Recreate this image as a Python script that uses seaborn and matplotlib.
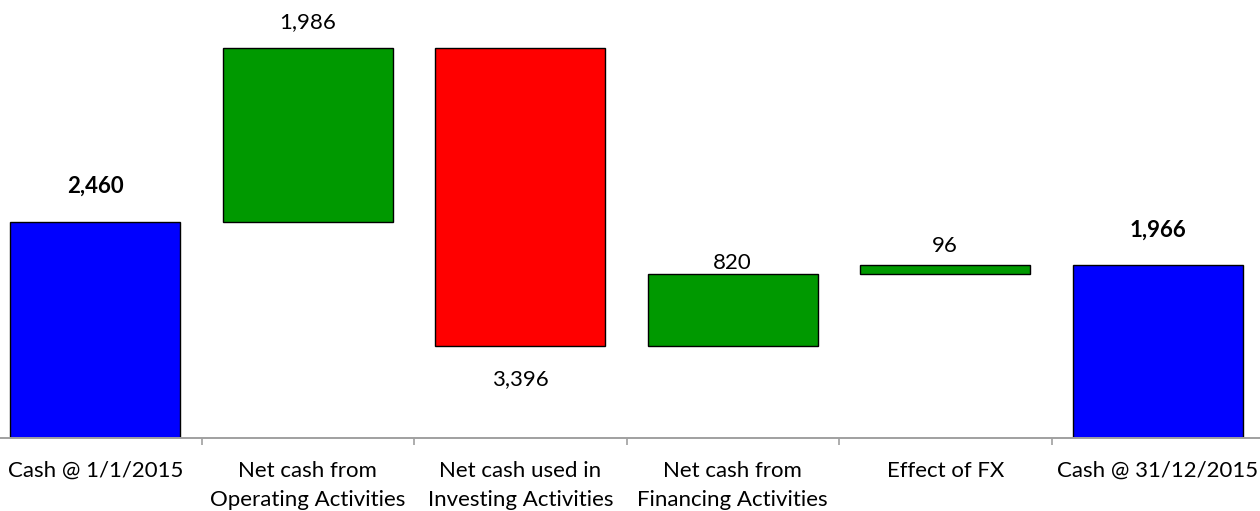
import matplotlib
matplotlib.use("Agg")
import matplotlib.pyplot as plt
import seaborn as sns
import numpy as np
import pandas as pd

# Cash flow waterfall, 2015
categories = [
    "Cash @ 1/1/2015",
    "Net cash from\nOperating Activities",
    "Net cash used in\nInvesting Activities",
    "Net cash from\nFinancing Activities",
    "Effect of FX",
    "Cash @ 31/12/2015",
]
changes = [2460, 1986, -3396, 820, 96, 1966]
is_total = [True, False, False, False, False, True]

# bar label offsets (points, positive = above the bar end)
label_offsets = [26, 19, -24, 8, 14, 25]

sns.set_theme(style="white")
plt.rcParams["font.family"] = ["Lato", "DejaVu Sans"]

# floating bar geometry from the running total
running = 0
bottoms, heights = [], []
for val, tot in zip(changes, is_total):
    if tot:
        bottoms.append(0)
        heights.append(val)
        running = val
    else:
        start = running
        running = running + val
        bottoms.append(min(start, running))
        heights.append(abs(val))

df = pd.DataFrame({"category": categories, "height": heights, "bottom": bottoms})

colors = []
for val, tot in zip(changes, is_total):
    if tot:
        colors.append("#0000FF")
    elif val >= 0:
        colors.append("#009900")
    else:
        colors.append("#FF0000")

W, H = 1260, 511
fig = plt.figure(figsize=(W / 100, H / 100), dpi=100)
ax = fig.add_axes([-11 / W, 73.5 / H, 1275 / W, 437.5 / H])

sns.barplot(data=df, x="category", y="height", bottom=df["bottom"].to_numpy(),
            width=0.8, ax=ax, color="#0000FF", saturation=1,
            edgecolor="black", linewidth=1.0)
for patch, c in zip(ax.patches, colors):
    patch.set_facecolor(c)
    patch.set_edgecolor("black")
    patch.set_linewidth(1.0)

ax.set_xlim(-0.5, len(categories) - 0.5)
ax.set_ylim(0, 4994)

FS = 16

# value labels
for i, (val, tot) in enumerate(zip(changes, is_total)):
    top = bottoms[i] + heights[i]
    anchor = top if label_offsets[i] > 0 else bottoms[i]
    ax.annotate(f"{abs(val):,}", xy=(i, anchor), xytext=(0, label_offsets[i]),
                textcoords="offset points", ha="center", va="center",
                fontsize=FS, fontweight="bold" if tot else "normal",
                color="black")

for side in ["left", "right", "top"]:
    ax.spines[side].set_visible(False)
ax.spines["bottom"].set_color("#A0A0A0")
ax.spines["bottom"].set_linewidth(1.4)

ax.set_yticks([])
ax.set_xlabel("")
ax.set_ylabel("")
ax.set_xticks(range(len(categories)))
ax.set_xticklabels(categories, fontsize=FS, linespacing=1.55)
ax.tick_params(axis="x", which="major", bottom=True, length=0, pad=17, colors="black")
ax.set_xticks(np.arange(0.5, len(categories) - 0.5, 1.0), minor=True)
ax.tick_params(axis="x", which="minor", bottom=True, length=5, width=1.2,
               color="#A0A0A0", direction="out")

fig.savefig("out.png", dpi=100)
